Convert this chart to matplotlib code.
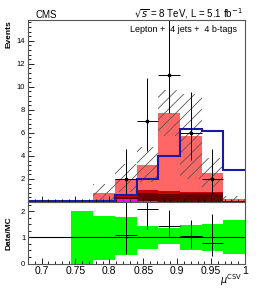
import matplotlib.pyplot as plt, numpy as np
from matplotlib.ticker import MultipleLocator

plt.rcParams['font.family'] = ['Liberation Sans', 'DejaVu Sans']
plt.rcParams['hatch.linewidth'] = 0.6
plt.rcParams['hatch.color'] = '#555555'

edges = np.linspace(0.68, 1.0, 11)

# stacked MC (bottom -> top)
magenta = [0, 0, 0, 0.15, 0.30, 0.05, 0.03, 0.03, 0.03, 0.01]
maroon  = [0, 0, 0, 0.00, 0.10, 0.72, 0.70, 0.72, 0.75, 0.05]
red     = [0, 0, 0, 0.00, 0.20, 0.25, 0.24, 0.15, 0.05, 0.02]
total   = [0, 0, 0, 0.80, 2.00, 3.20, 7.70, 5.70, 2.50, 0.30]
unc_lo  = [0, 0, 0, 0.10, 0.90, 1.70, 5.70, 2.00, 1.20, 0.10]
unc_hi  = [0, 0, 0, 1.55, 3.30, 4.80, 9.70, 9.40, 3.80, 0.50]
blue    = [0.06, 0.06, 0.06, 0.10, 0.62, 2.0, 4.0, 6.3, 6.2, 2.8]

data_x  = [0.824, 0.856, 0.888, 0.920, 0.952]
data_y  = [2, 7, 11, 6, 2]
data_lo = [1.29, 2.58, 3.30, 2.38, 1.29]
data_hi = [2.64, 3.77, 4.80, 3.58, 2.64]

ratio_y  = [1.07, 2.07, 1.45, 1.04, 0.80]
ratio_lo = [0.71, 0.76, 0.43, 0.43, 0.52]
ratio_hi = [2.00, 1.00, 0.58, 0.64, 1.08]
band_lo = [np.nan, np.nan, 0.0, 0.15, 0.32, 0.57, 0.73, 0.51, 0.48, 0.38]
band_hi = [np.nan, np.nan, 2.0, 1.82, 1.78, 1.42, 1.34, 1.46, 1.50, 1.65]

W, H = 258, 290
fig = plt.figure(figsize=(W/100, H/100), dpi=100)
ax = fig.add_axes([28/W, 1-202/H, 217/W, 182/H])
rx = fig.add_axes([28/W, 1-263.5/H, 217/W, 61.5/H], sharex=ax)

w = np.diff(edges)
b0 = np.zeros(10)
salmon = np.array(total) - np.array(magenta) - np.array(maroon) - np.array(red)
for vals, col in [(magenta, '#ff00ff'), (maroon, '#6a0000'), (red, '#cc0000'), (salmon, '#ff6666')]:
    ax.bar(edges[:-1], vals, width=w, bottom=b0, align='edge', color=col, lw=0)
    b0 = b0 + np.array(vals)

ax.bar(edges[:-1], np.array(unc_hi) - np.array(unc_lo), width=w, bottom=unc_lo,
       align='edge', facecolor='none', edgecolor='#555555', hatch='///', lw=0)
ax.stairs(blue, edges, color='#1a1aaa', lw=1.5, baseline=None)
ax.errorbar(data_x, data_y, yerr=[data_lo, data_hi], xerr=0.016, fmt='s',
            color='black', ms=2, elinewidth=0.7, capsize=0)

ax.set_xlim(0.68, 1.0)
ax.set_ylim(0, 15.8)
ax.yaxis.set_minor_locator(MultipleLocator(0.4))
ax.set_yticks([2, 4, 6, 8, 10, 12, 14])
ax.tick_params(labelbottom=False)

for i in range(10):
    if not np.isnan(band_lo[i]):
        rx.bar(edges[i], band_hi[i] - band_lo[i], width=w[i], bottom=band_lo[i],
               align='edge', color='#00ff00', lw=0)
rx.axhline(1, color='black', lw=0.8)
rx.errorbar(data_x, ratio_y, yerr=[ratio_lo, ratio_hi], xerr=0.016, fmt='none',
            color='black', elinewidth=0.7, capsize=0)
rx.set_ylim(0, 2.35)
rx.set_yticks([0, 1, 2])
rx.yaxis.set_minor_locator(MultipleLocator(0.25))
rx.xaxis.set_minor_locator(MultipleLocator(0.01))
rx.set_xticks([0.7, 0.75, 0.8, 0.85, 0.9, 0.95, 1.0])
rx.set_xticklabels(['0.7', '0.75', '0.8', '0.85', '0.9', '0.95', '1'])
rx.set_xlim(0.68, 1.0)

for a in (ax, rx):
    a.tick_params(which='both', direction='in', top=False, right=False, labelsize=5.5, pad=2)
    a.tick_params(which='major', length=4, width=0.6)
    a.tick_params(which='minor', length=2, width=0.6)
    for s in a.spines.values():
        s.set_linewidth(0.8)
        s.set_color('#555555')
rx.tick_params(axis='x', labelsize=7.5, pad=2)

fig.text(36/W, 1-15/H, 'CMS', fontsize=7, va='center', ha='left')
fig.text(243/W, 1-14/H, r'$\sqrt{s}$ = 8 TeV, L = 5.1 fb$^{-1}$', fontsize=7,
         va='center', ha='right')
fig.text(237/W, 1-29/H, 'Lepton +  4 jets +  4 b-tags', fontsize=6.5,
         va='center', ha='right')
fig.text(9/W, 1-20/H, 'Events', fontsize=6, fontweight='bold', rotation=90,
         va='top', ha='center')
fig.text(9/W, 1-233/H, 'Data/MC', fontsize=6, fontweight='bold', rotation=90,
         va='center', ha='center')
fig.text(242/W, 1-288/H, r'$\mu^{\mathrm{CSV}}$', fontsize=7, va='bottom', ha='right')

fig.savefig('out.png', dpi=100)
